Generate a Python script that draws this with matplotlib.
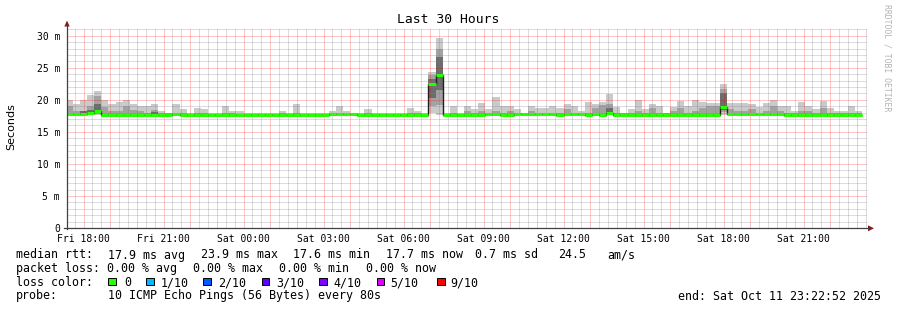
import matplotlib
matplotlib.use("Agg")
import matplotlib.pyplot as plt
import matplotlib.dates as mdates
from matplotlib.patches import Polygon, Rectangle
from matplotlib.lines import Line2D
from matplotlib.ticker import FuncFormatter, MultipleLocator
import numpy as np
from datetime import datetime, timedelta

nan = float("nan")

# ---------------- data (ms), one value per 16-minute step ----------------
step_start = datetime(2025, 10, 10, 17, 20)
step_minutes = 16
view_start = datetime(2025, 10, 10, 17, 22, 52)
view_end = datetime(2025, 10, 11, 23, 22, 52)

median = [17.8, 17.8, 17.75, 17.9, 18.2, 17.55, 17.55, 17.7, 17.7, 17.7,
          17.65, 17.6, 17.65, 17.7, 17.7, 17.8, 17.6, 17.65, 17.7, 17.7,
          17.7, 17.65, 17.7, 17.7, 17.6, 17.7, 17.7, 17.7, 17.7, 17.7,
          17.7, 17.7, 17.6, 17.65, 17.7, 17.6, 17.7, 17.75, 17.75, 17.75,
          17.75, 17.6, 17.65, 17.65, 17.6, 17.65, 17.65, 17.6, 17.65, 17.7,
          17.6, 22.4, 23.9, 17.6, 17.6, 17.65, 17.65, 17.65, 17.7, 17.75,
          17.8, 17.6, 17.7, 17.75, 17.75, 17.75, 17.75, 17.75, 17.75, 17.7,
          17.75, 17.75, 17.75, 17.7, 17.75, 17.7, 18.0, 17.7, 17.7, 17.7,
          17.7, 17.7, 17.65, 17.6, 17.6, 17.7, 17.6, 17.7, 17.6, 17.65,
          17.65, 17.65, 18.8, 17.75, 17.75, 17.75, 17.75, 17.75, 17.75, 17.85,
          17.75, 17.65, 17.65, 17.65, 17.65, 17.65, 17.7, 17.7, 17.7, 17.7,
          17.7, 17.65]

p_max = [20.0, 19.4, 20.0, 20.7, 21.4, 20.0, 19.3, 19.6, 19.9, 19.3,
         19.0, 19.0, 19.4, 18.3, 18.0, 19.3, 18.5, 18.0, 18.7, 18.5,
         17.9, 17.9, 19.0, 18.2, 18.2, 17.9, 18.0, 18.0, 18.0, 18.0,
         18.3, 18.0, 19.3, 17.9, 17.9, 17.9, 18.0, 18.2, 19.0, 18.2,
         17.9, 17.9, 18.5, 18.0, 17.9, 17.9, 18.0, 18.0, 18.7, 18.3,
         17.9, 24.4, 29.7, 17.9, 19.0, 17.9, 19.1, 18.5, 19.5, 18.5,
         20.4, 19.0, 19.0, 18.5, 18.0, 19.1, 18.7, 18.7, 19.0, 18.7,
         19.3, 19.0, 18.3, 19.6, 19.3, 19.6, 20.9, 18.9, 18.0, 18.5,
         20.0, 18.5, 19.3, 19.0, 18.0, 18.9, 19.8, 19.0, 20.0, 19.6,
         19.5, 19.5, 22.4, 19.5, 19.5, 19.5, 19.4, 18.9, 19.5, 20.0,
         19.0, 19.0, 18.3, 19.6, 19.1, 18.5, 19.8, 18.7, 18.3, 18.3,
         19.0, 18.2]

p_min = [17.5, 17.55, 17.5, 17.6, 17.6, 17.4, 17.4, 17.5, 17.5, 17.5,
         17.45, 17.45, 17.5, 17.5, 17.5, 17.55, 17.45, 17.5, 17.5, 17.5,
         17.5, 17.5, 17.5, 17.5, 17.45, 17.5, 17.5, 17.5, 17.5, 17.5,
         17.5, 17.5, 17.45, 17.5, 17.5, 17.45, 17.5, 17.55, 17.55, 17.55,
         17.55, 17.45, 17.5, 17.5, 17.45, 17.5, 17.5, 17.45, 17.5, 17.5,
         17.45, 17.9, 17.6, 17.45, 17.45, 17.5, 17.5, 17.5, 17.5, 17.55,
         17.6, 17.45, 17.5, 17.55, 17.55, 17.55, 17.55, 17.55, 17.55, 17.5,
         17.55, 17.55, 17.55, 17.5, 17.55, 17.5, 17.6, 17.5, 17.5, 17.5,
         17.5, 17.5, 17.5, 17.45, 17.45, 17.5, 17.45, 17.5, 17.45, 17.5,
         17.5, 17.5, 17.7, 17.55, 17.55, 17.55, 17.55, 17.55, 17.55, 17.6,
         17.55, 17.5, 17.5, 17.5, 17.5, 17.5, 17.5, 17.5, 17.5, 17.5,
         17.5, 17.5]

m_hi = [19.0, 18.3, 18.3, 19.1, 20.6, 18.9, 18.3, 18.3, 19.0, 18.4,
        18.3, 18.0, 18.4, 18.0, 17.9, 18.0, 17.9, 17.8, 17.9, 17.9,
        17.8, 17.8, 17.9, 17.9, 17.8, 17.8, 17.8, 17.8, 17.8, 17.8,
        17.9, 17.8, 17.9, 17.8, 17.8, 17.8, 17.8, 17.9, 17.9, 17.9,
        17.8, 17.8, 17.9, 17.8, 17.8, 17.8, 17.8, 17.8, 18.0, 17.9,
        17.8, 23.8, 27.9, 17.7, 18.0, 17.8, 18.2, 17.9, 18.3, 17.9,
        18.3, 18.0, 18.3, 17.9, 17.9, 18.3, 18.0, 18.0, 18.0, 18.0,
        18.5, 18.0, 17.9, 18.0, 18.7, 19.2, 19.3, 18.0, 17.9, 18.0,
        18.3, 18.0, 18.7, 18.0, 17.9, 18.3, 18.7, 18.0, 18.3, 18.7,
        19.0, 19.0, 21.7, 18.5, 18.3, 18.3, 18.5, 18.0, 18.3, 19.0,
        18.3, 18.0, 17.9, 18.3, 18.3, 18.0, 18.7, 18.0, 17.9, 17.9,
        18.0, 17.9]

m_lo = [17.5, 17.55, 17.5, 17.7, 17.8, 17.4, 17.4, 17.5, 17.5, 17.5,
        17.45, 17.45, 17.5, 17.5, 17.5, 17.55, 17.45, 17.5, 17.5, 17.5,
        17.5, 17.5, 17.5, 17.5, 17.45, 17.5, 17.5, 17.5, 17.5, 17.5,
        17.5, 17.5, 17.45, 17.5, 17.5, 17.45, 17.5, 17.55, 17.55, 17.55,
        17.55, 17.45, 17.5, 17.5, 17.45, 17.5, 17.5, 17.45, 17.5, 17.5,
        17.45, 19.0, 19.2, 17.45, 17.45, 17.5, 17.5, 17.5, 17.5, 17.55,
        17.6, 17.45, 17.5, 17.55, 17.55, 17.55, 17.55, 17.55, 17.55, 17.5,
        17.55, 17.55, 17.55, 17.5, 17.55, 17.5, 17.7, 17.5, 17.5, 17.5,
        17.5, 17.5, 17.5, 17.45, 17.45, 17.5, 17.45, 17.5, 17.45, 17.5,
        17.5, 17.5, 18.1, 17.55, 17.55, 17.55, 17.55, 17.55, 17.55, 17.6,
        17.55, 17.5, 17.5, 17.5, 17.5, 17.5, 17.5, 17.5, 17.5, 17.5,
        17.5, 17.5]

d_lo = [nan] * 112
d_hi = [nan] * 112
dark_steps = [2, 3, 4, 12, 51, 52, 76, 92]
dark_lo_vals = [17.8, 17.8, 18.0, 17.8, 20.3, 21.5, 17.8, 18.4]
dark_hi_vals = [18.3, 18.4, 19.4, 18.1, 23.3, 26.7, 18.7, 21.0]
for i, lo, hi in zip(dark_steps, dark_lo_vals, dark_hi_vals):
    d_lo[i] = lo
    d_hi[i] = hi

loss_labels = ["0", "1/10", "2/10", "3/10", "4/10", "5/10", "9/10"]
loss_colors = ["#26ff00", "#00b8ff", "#0059ff", "#5e00ff", "#7e00ff", "#dd00ff", "#ff0000"]

# ---------------- figure ----------------
W, H = 897, 310
MONO = "DejaVu Sans Mono"
fig = plt.figure(figsize=(W / 100, H / 100), dpi=100)
fig.patch.set_facecolor("white")

def fx(x):
    return x / W

def fy(y):
    return 1 - y / H

ax = fig.add_axes([fx(67), fy(228), 800 / W, 200 / H])
ax.set_facecolor("white")

edges = mdates.date2num([step_start + timedelta(minutes=step_minutes * i)
                         for i in range(len(median) + 1)])

ax.stairs(p_max, edges, baseline=p_min, fill=True, color="#cacaca", lw=0, zorder=1)
ax.stairs(m_hi, edges, baseline=m_lo, fill=True, color="#a2a2a2", lw=0, zorder=1.1)
ax.bar(edges[:-1], np.array(d_hi) - np.array(d_lo), bottom=d_lo,
       width=np.diff(edges), align="edge", color="#6c6c6c", linewidth=0, zorder=1.2)
ax.stairs(median, edges, baseline=None, color="#202020", lw=1.0, zorder=3)
ax.hlines(median, edges[:-1], edges[1:], colors="#26ff00", lw=2.2,
          capstyle="butt", zorder=3.1)

ax.set_xlim(mdates.date2num(view_start), mdates.date2num(view_end))
ax.set_ylim(0, 31.2)

ax.xaxis.set_major_locator(mdates.HourLocator(interval=1))
ax.xaxis.set_minor_locator(mdates.MinuteLocator(byminute=[0, 20, 40]))

def xfmt(x, pos):
    d = mdates.num2date(round(x * 1440) / 1440)
    if d.hour % 3 == 0 and d.minute == 0:
        return d.strftime("%a %H:%M")
    return ""

ax.xaxis.set_major_formatter(FuncFormatter(xfmt))
ax.yaxis.set_major_locator(MultipleLocator(5))
ax.yaxis.set_minor_locator(MultipleLocator(1))
ax.yaxis.set_major_formatter(FuncFormatter(lambda v, p: "0" if v == 0 else f"{int(round(v))} m"))

ax.set_axisbelow(False)
ax.grid(which="major", color="#ff0000", alpha=0.45, lw=0.72, linestyle=(0, (1, 1)),
        zorder=2.5)
ax.grid(which="minor", color="#808080", alpha=0.55, lw=0.72, linestyle=(0, (1, 1)),
        zorder=2.4)

ax.tick_params(which="both", length=0)
ax.tick_params(axis="x", pad=4, labelsize=7)
ax.tick_params(axis="y", pad=5, labelsize=7)
for lab in ax.get_xticklabels() + ax.get_yticklabels():
    lab.set_fontfamily(MONO)
for s in ax.spines.values():
    s.set_visible(False)

# axes lines and arrows
axcol = "#404040"
fig.add_artist(Line2D([fx(67), fx(67)], [fy(228.5), fy(24)], color=axcol, lw=0.9))
fig.add_artist(Line2D([fx(64), fx(869)], [fy(228.3), fy(228.3)], color=axcol, lw=0.9))
arrow_col = "#8a1a1a"
fig.add_artist(Polygon([(fx(64.3), fy(26.5)), (fx(69.7), fy(26.5)), (fx(67), fy(20.5))],
                       closed=True, color=arrow_col, lw=0))
fig.add_artist(Polygon([(fx(868), fy(225.3)), (fx(868), fy(231.3)), (fx(874), fy(228.3))],
                       closed=True, color=arrow_col, lw=0))

# titles
fig.text(fx(447.8), fy(19.5), "Last 30 Hours", ha="center", va="center",
         fontsize=9.4, family=MONO)
fig.text(fx(11), fy(127), "Seconds", rotation=90, ha="center", va="center",
         fontsize=8, family="DejaVu Sans")
fig.text(fx(886.5), fy(4), "RRDTOOL / TOBI OETIKER", rotation=270, ha="center",
         va="top", fontsize=5.9, family=MONO, color="#b4b4b4")

# legend
fs = 8.4
def t(x, y, s, **kw):
    fig.text(fx(x), fy(y), s, ha=kw.pop("ha", "left"), va="center",
             fontsize=fs, family=MONO, **kw)

y1, y2, y3, y4 = 255, 268.5, 282.5, 296
t(16, y1, "median rtt:")
t(107.7, y1, "17.9 ms avg")
t(201, y1, "23.9 ms max")
t(293, y1, "17.6 ms min")
t(386, y1, "17.7 ms now")
t(475, y1, "0.7 ms sd")
t(558, y1, "24.5")
t(607, y1, "am/s")

t(16, y2, "packet loss:")
t(107.3, y2, "0.00 % avg")
t(193.3, y2, "0.00 % max")
t(279.3, y2, "0.00 % min")
t(365.7, y2, "0.00 % now")

t(16, y3, "loss color:")
box_x = [108.3, 146, 203.3, 261.7, 319.3, 376.7, 437.3]
text_x = [124, 160.7, 218.3, 276.7, 333.3, 390.7, 450]
for bx, tx, lab, col in zip(box_x, text_x, loss_labels, loss_colors):
    fig.add_artist(Rectangle((fx(bx), fy(285.3)), 7.5 / W, 7.5 / H,
                             facecolor=col, edgecolor="black", lw=0.7))
    t(tx, y3, lab)

t(16, y4, "probe:")
t(107.7, y4, "10 ICMP Echo Pings (56 Bytes) every 80s")
t(881, y4, "end: Sat Oct 11 23:22:52 2025", ha="right")

fig.savefig("out.png", dpi=100, facecolor="white")
